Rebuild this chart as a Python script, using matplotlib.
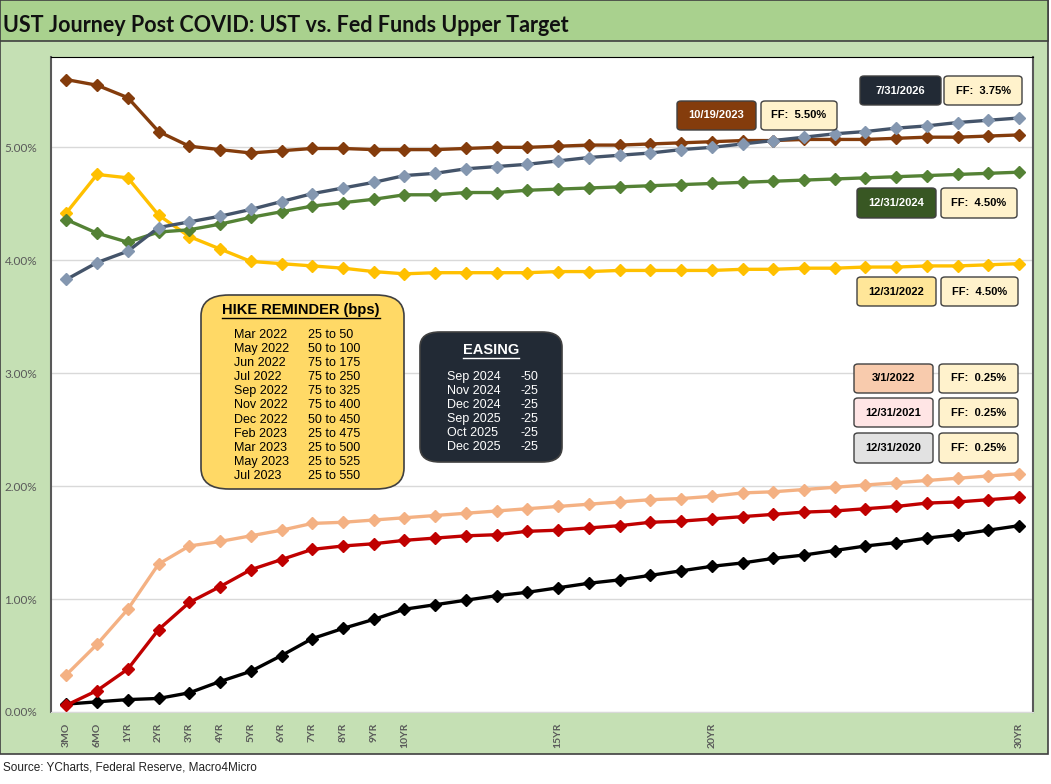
import matplotlib.pyplot as plt
from matplotlib.patches import FancyBboxPatch, Rectangle

# tenors on the x axis (3MO, 6MO, 1YR ... 30YR)
tenors = ["3MO", "6MO"] + [f"{i}YR" for i in range(1, 31)]
shown_ticks = ["3MO", "6MO", "1YR", "2YR", "3YR", "4YR", "5YR", "6YR", "7YR",
               "8YR", "9YR", "10YR", "15YR", "20YR", "30YR"]

# yield curves (%)
ust_2020 = [0.07, 0.09, 0.11, 0.12, 0.17, 0.27, 0.36, 0.50, 0.65, 0.74, 0.82, 0.91,
            0.95, 0.99, 1.03, 1.06, 1.10, 1.14, 1.17, 1.21, 1.25, 1.29, 1.32, 1.36,
            1.39, 1.43, 1.47, 1.50, 1.54, 1.57, 1.61, 1.65]
ust_2021 = [0.06, 0.19, 0.38, 0.73, 0.97, 1.11, 1.26, 1.35, 1.44, 1.47, 1.49, 1.52,
            1.54, 1.56, 1.57, 1.60, 1.61, 1.63, 1.65, 1.68, 1.69, 1.71, 1.73, 1.75,
            1.77, 1.78, 1.80, 1.82, 1.85, 1.86, 1.88, 1.90]
ust_mar2022 = [0.33, 0.60, 0.91, 1.31, 1.47, 1.51, 1.56, 1.61, 1.67, 1.68, 1.70, 1.72,
               1.74, 1.76, 1.78, 1.80, 1.82, 1.84, 1.86, 1.88, 1.89, 1.91, 1.94, 1.95,
               1.97, 1.99, 2.01, 2.03, 2.05, 2.07, 2.09, 2.11]
ust_2022 = [4.42, 4.76, 4.73, 4.40, 4.21, 4.10, 3.99, 3.97, 3.95, 3.93, 3.90, 3.88,
            3.89, 3.89, 3.89, 3.89, 3.90, 3.90, 3.91, 3.91, 3.91, 3.91, 3.92, 3.92,
            3.93, 3.93, 3.94, 3.94, 3.95, 3.95, 3.96, 3.97]
ust_oct2023 = [5.60, 5.55, 5.44, 5.14, 5.01, 4.98, 4.95, 4.97, 4.99, 4.99, 4.98, 4.98,
               4.98, 4.99, 5.00, 5.00, 5.01, 5.02, 5.02, 5.03, 5.04, 5.05, 5.06, 5.06,
               5.07, 5.07, 5.07, 5.08, 5.09, 5.09, 5.10, 5.11]
ust_2024 = [4.36, 4.24, 4.16, 4.25, 4.27, 4.32, 4.38, 4.43, 4.48, 4.51, 4.54, 4.58,
            4.58, 4.60, 4.60, 4.62, 4.63, 4.64, 4.65, 4.66, 4.67, 4.68, 4.69, 4.70,
            4.71, 4.72, 4.73, 4.74, 4.75, 4.76, 4.77, 4.78]
ust_jul2026 = [3.83, 3.98, 4.08, 4.29, 4.34, 4.39, 4.45, 4.52, 4.59, 4.64, 4.69, 4.75,
               4.77, 4.81, 4.83, 4.85, 4.88, 4.91, 4.93, 4.95, 4.98, 5.00, 5.03, 5.06,
               5.09, 5.12, 5.14, 5.17, 5.19, 5.22, 5.24, 5.26]

hike_months = ["Mar 2022", "May 2022", "Jun 2022", "Jul 2022", "Sep 2022", "Nov 2022",
               "Dec 2022", "Feb 2023", "Mar 2023", "May 2023", "Jul 2023"]
hike_moves = ["25 to 50", "50 to 100", "75 to 175", "75 to 250", "75 to 325", "75 to 400",
              "50 to 450", "25 to 475", "25 to 500", "25 to 525", "25 to 550"]
ease_months = ["Sep 2024", "Nov 2024", "Dec 2024", "Sep 2025", "Oct 2025", "Dec 2025"]
ease_moves = ["-50", "-25", "-25", "-25", "-25", "-25"]

# (date label, FF label, box colour, text colour)
tags = [
    ("7/31/2026", "FF:  3.75%", "#222A35", "white"),
    ("10/19/2023", "FF:  5.50%", "#843C0C", "white"),
    ("12/31/2024", "FF:  4.50%", "#385723", "white"),
    ("12/31/2022", "FF:  4.50%", "#FFE699", "black"),
    ("3/1/2022", "FF:  0.25%", "#F8CBAD", "black"),
    ("12/31/2021", "FF:  0.25%", "#FFE5E5", "black"),
    ("12/31/2020", "FF:  0.25%", "#E2E2E2", "black"),
]

W, H = 1051, 784
fig = plt.figure(figsize=(W / 100, H / 100), dpi=100)
fig.patch.set_facecolor("white")

# green frame and title band
fig.patches.append(Rectangle((0, 1 - 754 / H), 1048 / W, 754 / H, transform=fig.transFigure,
                             facecolor="#C5E0B4", edgecolor="#404040", lw=1.2, zorder=-2))
fig.patches.append(Rectangle((0, 1 - 41 / H), 1048 / W, 41 / H, transform=fig.transFigure,
                             facecolor="#A9D18E", edgecolor="#404040", lw=1.2, zorder=-1))
fig.text(3 / W, 1 - 25 / H, "UST Journey Post COVID: UST vs. Fed Funds Upper Target",
         fontsize=15.5, fontweight="bold", family="Lato", va="center", ha="left", color="#111111")
fig.text(3 / W, 1 - 768 / H, "Source: YCharts, Federal Reserve, Macro4Micro",
         fontsize=8.5, family="Liberation Sans", va="center", ha="left", color="#222222")

ax = fig.add_axes([51 / W, 1 - 712 / H, (1033 - 51) / W, (712 - 57) / H])
ax.set_zorder(1)
ax.set_facecolor("white")

x = list(range(len(tenors)))
series = [
    (ust_2020, "black", "black"),
    (ust_2021, "#C00000", "#C00000"),
    (ust_mar2022, "#F4B183", "#F4B183"),
    (ust_2022, "#FFC000", "#FFC000"),
    (ust_oct2023, "#843C0C", "#843C0C"),
    (ust_2024, "#548235", "#548235"),
    (ust_jul2026, "#44546A", "#8497B0"),
]
for vals, lc, mc in series:
    ax.plot(x, vals, color=lc, lw=2.4, marker="D", markersize=6.5,
            markerfacecolor=mc, markeredgecolor=mc, zorder=3)

ax.set_xlim(-0.5, 31.45)
ax.set_ylim(0, 5.8)
ax.set_yticks([0, 1, 2, 3, 4, 5])
ax.set_yticklabels([f"{v:.2f}%" for v in [0, 1, 2, 3, 4, 5]], family="Lato", fontsize=8.5)
ax.yaxis.grid(True, color="#D9D9D9", lw=1)
ax.set_axisbelow(True)
tick_pos = [tenors.index(t) for t in shown_ticks]
ax.set_xticks(tick_pos)
ax.set_xticklabels(shown_ticks, rotation=90, fontsize=7.5, fontweight="bold", color="#595959",
                   family="Lato")
ax.tick_params(axis="y", colors="#595959", length=0, pad=10)
ax.tick_params(axis="x", length=0, pad=8)
ax.spines["top"].set_color("black")
ax.spines["left"].set_color("#595959")
ax.spines["left"].set_linewidth(1.5)
ax.spines["right"].set_color("#595959")
ax.spines["right"].set_linewidth(1.5)
ax.spines["bottom"].set_color("#D9D9D9")


def px_box(x0, y0, x1, y1, fc, ec="#404040", r=4, lw=1.0):
    # rounded box given in figure pixel coordinates (y from top)
    p = FancyBboxPatch((x0 / W, 1 - y1 / H), (x1 - x0) / W, (y1 - y0) / H,
                       boxstyle=f"round,pad=0,rounding_size={r / W}",
                       transform=fig.transFigure, facecolor=fc, edgecolor=ec, lw=lw, zorder=5)
    fig.patches.append(p)


def px_text(xp, yp, s, **kw):
    fig.text(xp / W, 1 - yp / H, s, zorder=6, **kw)


# date / FF tags on the right
tag_pos = [(860, 941, 944, 1022, 76, 105), (677, 756, 761, 837, 101, 130),
           (857, 936, 941, 1017, 188, 218), (857, 936, 941, 1018, 277, 306),
           (854, 933, 939, 1018, 364, 393), (854, 933, 939, 1018, 398, 427),
           (854, 933, 939, 1018, 433, 463)]
for (lab, ff, fc, tc), (a0, a1, b0, b1, y0, y1) in zip(tags, tag_pos):
    px_box(a0, y0, a1, y1, fc)
    px_box(b0, y0, b1, y1, "#FFF2CC")
    px_text((a0 + a1) / 2, (y0 + y1) / 2, lab, ha="center", va="center", fontsize=8,
            fontweight="bold", color=tc, family="Liberation Sans")
    px_text((b0 + b1) / 2, (y0 + y1) / 2, ff, ha="center", va="center", fontsize=8,
            fontweight="bold", color="black", family="Liberation Sans")

# hike reminder box
px_box(201, 295, 404, 489, "#FFD966", ec="#404040", r=28, lw=1.2)
px_text(301, 310, "HIKE REMINDER (bps)", ha="center", va="center", fontsize=10.5,
        fontweight="bold", color="black", family="Liberation Sans")
fig.add_artist(plt.Line2D([222 / W, 380 / W], [1 - 318 / H, 1 - 318 / H], color="black",
                          lw=1, transform=fig.transFigure, zorder=6))
for i, (m, v) in enumerate(zip(hike_months, hike_moves)):
    yy = 335 + i * 14.1
    px_text(234, yy, m, ha="left", va="center", fontsize=9, color="black", family="Liberation Sans")
    px_text(308, yy, v, ha="left", va="center", fontsize=9, color="black", family="Liberation Sans")

# easing box
px_box(420, 332, 562, 462, "#222A35", ec="#404040", r=20, lw=1.2)
px_text(491, 350, "EASING", ha="center", va="center", fontsize=10.5, fontweight="bold",
        color="white", family="Liberation Sans")
fig.add_artist(plt.Line2D([463 / W, 519 / W], [1 - 358 / H, 1 - 358 / H], color="white",
                          lw=1, transform=fig.transFigure, zorder=6))
for i, (m, v) in enumerate(zip(ease_months, ease_moves)):
    yy = 377 + i * 14
    px_text(447, yy, m, ha="left", va="center", fontsize=9, color="white", family="Liberation Sans")
    px_text(538, yy, v, ha="right", va="center", fontsize=9, color="white", family="Liberation Sans")

fig.savefig("out.png", dpi=100)
